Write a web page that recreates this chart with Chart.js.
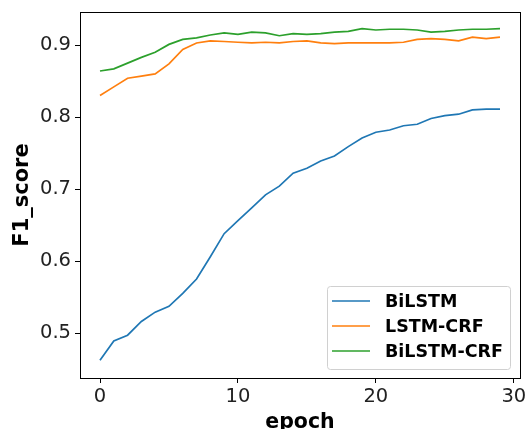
<!DOCTYPE html>
<html>
<head>
<meta charset="utf-8">
<script src="https://cdn.jsdelivr.net/npm/chart.js@4.4.0/dist/chart.umd.min.js"></script>
<style>
  html, body { margin: 0; padding: 0; background: #fff; }
  #f1Chart { display: block; }
</style>
</head>
<body>
<canvas id="f1Chart" width="526" height="429"></canvas>
<script>
const epochs = Array.from({ length: 30 }, (_, i) => i);

const bilstm = [0.462, 0.489, 0.497, 0.516, 0.529, 0.537, 0.555, 0.575, 0.606, 0.638,
                0.656, 0.674, 0.692, 0.704, 0.722, 0.729, 0.739, 0.746, 0.759, 0.771,
                0.779, 0.782, 0.788, 0.790, 0.798, 0.802, 0.804, 0.810, 0.811, 0.811];

const lstmCrf = [0.830, 0.842, 0.854, 0.857, 0.860, 0.874, 0.894, 0.903, 0.906, 0.905,
                 0.904, 0.903, 0.904, 0.903, 0.905, 0.906, 0.903, 0.902, 0.903, 0.903,
                 0.903, 0.903, 0.904, 0.908, 0.909, 0.908, 0.906, 0.911, 0.909, 0.911];

const bilstmCrf = [0.864, 0.867, 0.875, 0.883, 0.890, 0.901, 0.908, 0.910, 0.914, 0.917,
                   0.915, 0.918, 0.917, 0.913, 0.916, 0.915, 0.916, 0.918, 0.919, 0.923,
                   0.921, 0.922, 0.922, 0.921, 0.918, 0.919, 0.921, 0.922, 0.922, 0.923];

const seriesNames = ['BiLSTM', 'LSTM-CRF', 'BiLSTM-CRF'];
const seriesColors = ['#1f77b4', '#ff7f0e', '#2ca02c'];
const xTicks = [0, 10, 20, 30];
const yTicks = [0.5, 0.6, 0.7, 0.8, 0.9];

function toPoints(values) {
    return values.map((v, i) => ({ x: epochs[i], y: v }));
}

// box around the plot + legend in the lower right corner
const frameAndLegend = {
    id: 'frameAndLegend',
    afterDraw(chart) {
        const ctx = chart.ctx;
        const a = chart.chartArea;
        ctx.save();
        ctx.strokeStyle = '#000';
        ctx.lineWidth = 1;
        ctx.strokeRect(a.left + 0.5, a.top + 0.5, a.right - a.left, a.bottom - a.top);

        const boxX = 327, boxY = 286, boxW = 183, boxH = 83;
        ctx.beginPath();
        ctx.roundRect(boxX + 0.5, boxY + 0.5, boxW, boxH, 3);
        ctx.fillStyle = 'rgba(255,255,255,0.8)';
        ctx.fill();
        ctx.strokeStyle = '#d0d0d0';
        ctx.stroke();

        ctx.font = 'bold 17.5px "DejaVu Sans"';
        ctx.textBaseline = 'middle';
        chart.data.datasets.forEach((ds, i) => {
            const rowY = 301 + i * 25;
            ctx.beginPath();
            ctx.moveTo(332, rowY);
            ctx.lineTo(370, rowY);
            ctx.strokeStyle = ds.borderColor;
            ctx.lineWidth = 1.7;
            ctx.stroke();
            ctx.fillStyle = '#000';
            ctx.fillText(ds.label, 385, rowY + 1);
        });
        ctx.restore();
    }
};

new Chart(document.getElementById('f1Chart'), {
    type: 'line',
    data: {
        datasets: [bilstm, lstmCrf, bilstmCrf].map((values, i) => ({
            label: seriesNames[i],
            data: toPoints(values),
            borderColor: seriesColors[i],
            backgroundColor: seriesColors[i],
            borderWidth: 1.7,
            pointRadius: 0,
            tension: 0
        }))
    },
    options: {
        responsive: false,
        animation: false,
        layout: { padding: { left: 0, right: 6, top: 12, bottom: 0 } },
        plugins: {
            legend: { display: false },
            tooltip: { enabled: false }
        },
        scales: {
            x: {
                type: 'linear',
                min: -1.45,
                max: 30.45,
                afterBuildTicks: axis => { axis.ticks = xTicks.map(v => ({ value: v })); },
                afterFit: axis => {
                    axis.height = 51;
                    axis.paddingLeft = 0;
                    axis.paddingRight = 0;
                },
                grid: { drawOnChartArea: false, drawTicks: true, tickLength: 5, color: '#000' },
                border: { display: true, color: '#000' },
                ticks: {
                    color: '#222',
                    font: { family: 'DejaVu Sans', size: 19.5 },
                    padding: 2,
                    maxRotation: 0
                },
                title: {
                    display: true,
                    text: 'epoch',
                    color: '#000',
                    font: { family: 'DejaVu Sans', size: 20.5, weight: 'bold' },
                    padding: { top: 0, bottom: -6 }
                }
            },
            y: {
                min: 0.4375,
                max: 0.946,
                afterBuildTicks: axis => { axis.ticks = yTicks.map(v => ({ value: v })); },
                afterFit: axis => {
                    axis.width = 80;
                    axis.paddingTop = 0;
                    axis.paddingBottom = 0;
                },
                grid: { drawOnChartArea: false, drawTicks: true, tickLength: 5, color: '#000' },
                border: { display: true, color: '#000' },
                ticks: {
                    color: '#222',
                    font: { family: 'DejaVu Sans', size: 19.5 },
                    padding: 4,
                    callback: v => v.toFixed(1)
                },
                title: {
                    display: true,
                    text: 'F1_score',
                    color: '#000',
                    font: { family: 'DejaVu Sans', size: 21, weight: 'bold' },
                    padding: { top: 10, bottom: 2 }
                }
            }
        }
    },
    plugins: [frameAndLegend]
});
</script>
</body>
</html>
